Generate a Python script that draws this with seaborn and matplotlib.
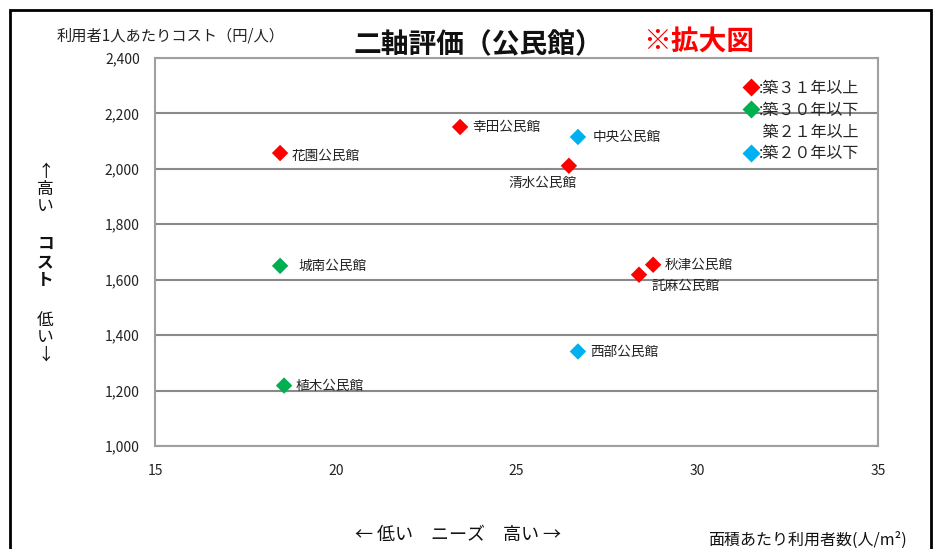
import numpy as np
import pandas as pd
import matplotlib.pyplot as plt
import seaborn as sns
from matplotlib.patches import Rectangle
from matplotlib.lines import Line2D

names = ["花園公民館", "幸田公民館", "中央公民館", "清水公民館", "城南公民館",
         "秋津公民館", "託麻公民館", "西部公民館", "植木公民館"]
need = [18.46, 23.44, 26.70, 26.45, 18.46, 28.78, 28.39, 26.70, 18.57]
cost = [2057, 2151, 2115, 2011, 1650, 1654, 1618, 1341, 1218]
age = ["築３１年以上", "築３１年以上", "築２０年以下", "築３１年以上", "築３０年以下",
       "築３１年以上", "築３１年以上", "築２０年以下", "築３０年以下"]
age_order = ["築３１年以上", "築３０年以下", "築２０年以下"]
colors = {"築３１年以上": "#FF0000", "築３０年以下": "#00B050", "築２０年以下": "#00B0F0"}

# label offsets (pixels) and alignment
offsets = [(12, -3), (12, 0), (15, 0), (-26, -17), (18, 0),
           (12, 0), (12, -11), (12, 0), (12, 0)]
aligns = ["left", "left", "left", "center", "left", "left", "left", "left", "left"]

df = pd.DataFrame({"name": names, "need": need, "cost": cost, "age": age})

sns.set_theme(style="white")
plt.rcParams['font.family'] = ['Noto Sans CJK JP', 'DejaVu Sans']

fig = plt.figure(figsize=(9.47, 5.49), dpi=100)
ax = fig.add_axes([0.1637, 0.1876, 0.7634, 0.7068])

sns.scatterplot(data=df, x="need", y="cost", hue="age", hue_order=age_order,
                palette=colors, marker="D", s=70, edgecolor="none",
                legend=False, ax=ax, zorder=3)

for i, row in df.iterrows():
    ax.annotate(row["name"], (row["need"], row["cost"]), xytext=offsets[i],
                textcoords="offset pixels", ha=aligns[i], va="center",
                fontsize=9.8, color="#222222", zorder=4)

ax.set_xlim(15, 35)
ax.set_ylim(1000, 2400)
ax.set_xticks(np.arange(15, 36, 5))
ax.set_yticks(np.arange(1000, 2401, 200))
ax.yaxis.set_major_formatter(plt.FuncFormatter(lambda v, p: f"{int(v):,}"))
ax.tick_params(axis="both", labelsize=10, colors="#898989", length=5,
               width=1.2, direction="out", labelcolor="#222222")
ax.tick_params(axis="x", pad=8)
ax.tick_params(axis="y", pad=6)
ax.grid(axis="y", color="#898989", linewidth=1.5)
ax.grid(axis="x", visible=False)
for sp in ax.spines.values():
    sp.set_color("#A0A0A0")
    sp.set_linewidth(1.5)
ax.set_xlabel("")
ax.set_ylabel("")

# legend
handles = [Line2D([], [], marker="D", linestyle="none", markersize=9,
                  markerfacecolor=colors[age_order[0]], markeredgecolor="none"),
           Line2D([], [], marker="D", linestyle="none", markersize=9,
                  markerfacecolor=colors[age_order[1]], markeredgecolor="none"),
           Line2D([], [], linestyle="none"),
           Line2D([], [], marker="D", linestyle="none", markersize=9,
                  markerfacecolor=colors[age_order[2]], markeredgecolor="none")]
labels = [":" + age_order[0], ":" + age_order[1], " 築２１年以上", ":" + age_order[2]]
leg = ax.legend(handles, labels, loc="upper right", bbox_to_anchor=(0.99, 0.972),
                frameon=False, fontsize=11.5, handlelength=0.8, handletextpad=0.1,
                labelspacing=0.3, borderaxespad=0.3)
leg.set_zorder(5)

# titles and axis captions
fig.text(0.505, 0.918, "二軸評価（公民館）", fontsize=20, fontweight="bold",
         ha="center", va="center", color="#111111")
fig.text(0.738, 0.925, "※拡大図", fontsize=20, fontweight="bold",
         ha="center", va="center", color="#FF0000")
fig.text(0.18, 0.935, "利用者1人あたりコスト（円/人）", fontsize=11,
         ha="center", va="center", color="#222222")
fig.text(0.048, 0.655, "↑\n高\nい", fontsize=12, ha="center", va="center",
         linespacing=1.0, color="#111111")
fig.text(0.048, 0.523, "コ\nス\nト", fontsize=12, fontweight="bold",
         ha="center", va="center", linespacing=1.0, color="#111111")
fig.text(0.048, 0.385, "低\nい\n↓", fontsize=12, ha="center", va="center",
         linespacing=1.0, color="#111111")
fig.text(0.484, 0.025, "← 低い　ニーズ　高い →", fontsize=13,
         ha="center", va="center", color="#111111")
fig.text(0.853, 0.016, "面積あたり利用者数(人/m²)", fontsize=11.5,
         ha="center", va="center", color="#111111")

# outer frame
fig.add_artist(Rectangle((0.0106, -0.02), 0.973, 1.002, transform=fig.transFigure,
                         fill=False, edgecolor="black", linewidth=2))

fig.savefig("out.png", dpi=100)
